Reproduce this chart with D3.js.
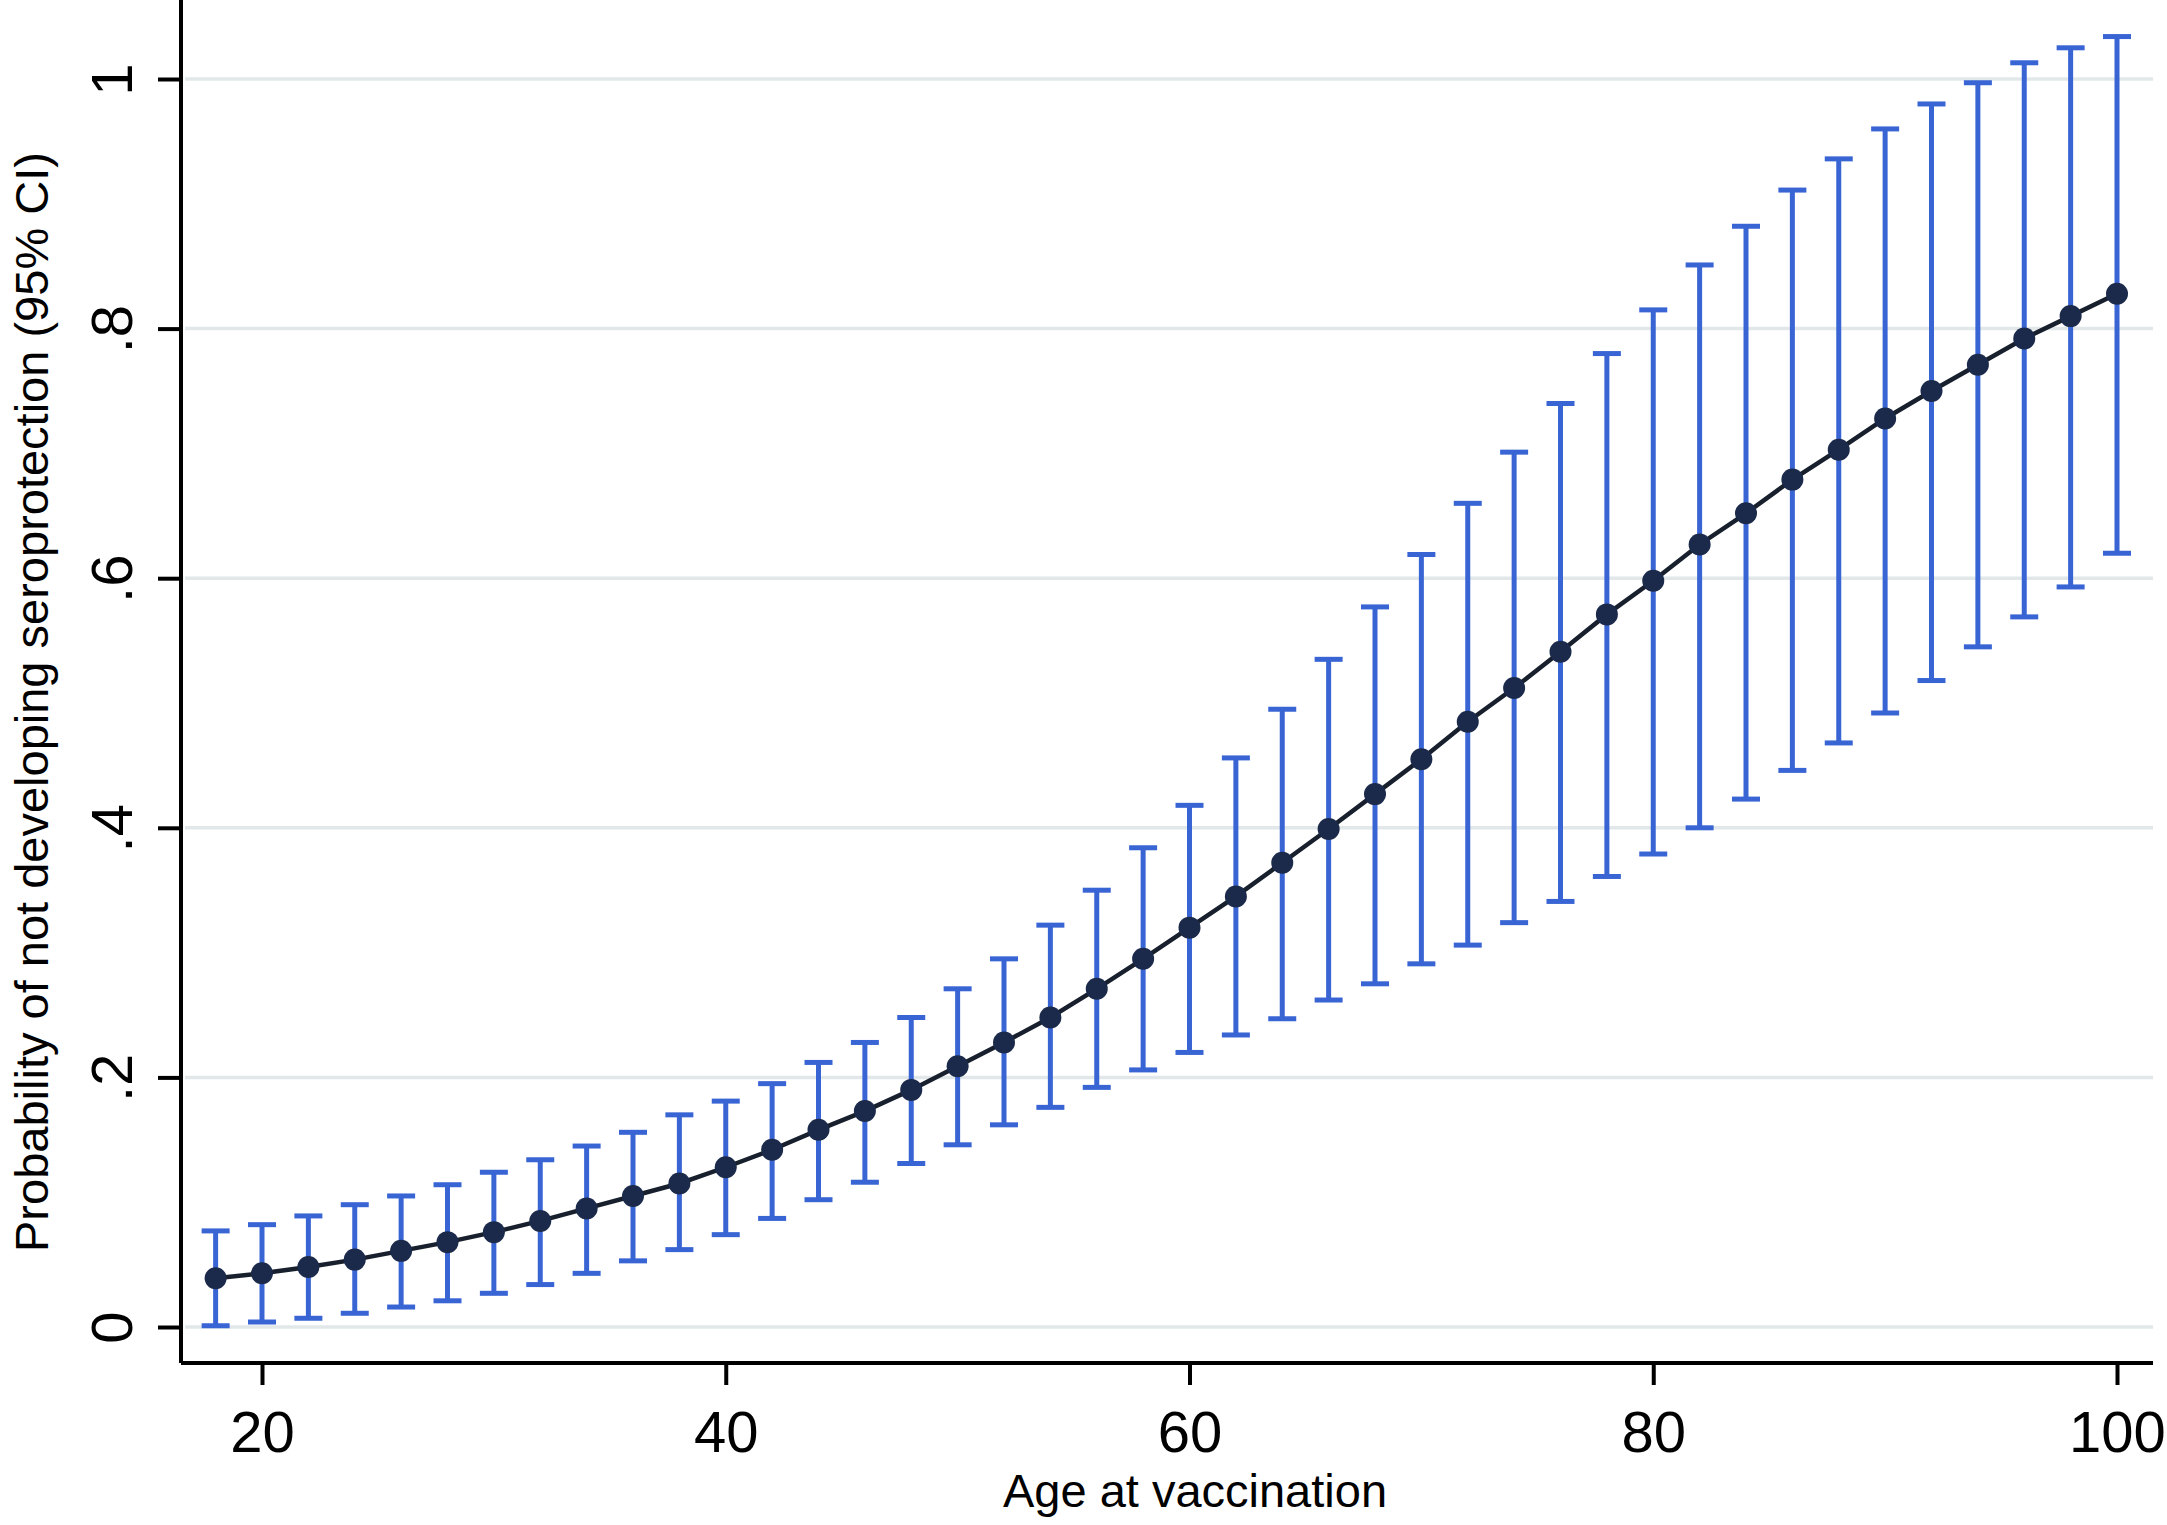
<!DOCTYPE html>
<html>
<head>
    <meta charset="utf-8">
    <title>Probability of not developing seroprotection by age</title>
    <script src="https://d3js.org/d3.v7.min.js"></script>
    <style>
        body { margin: 0; background: white; }
        svg { display: block; font-family: 'Liberation Sans', Arial, sans-serif; }
    </style>
</head>
<body>
<svg width="2167" height="1525"></svg>

<script>
    // ages at vaccination (every 2 years)
    let ages = [18, 20, 22, 24, 26, 28, 30, 32, 34, 36, 38, 40, 42, 44, 46, 48, 50, 52, 54, 56, 58,
                60, 62, 64, 66, 68, 70, 72, 74, 76, 78, 80, 82, 84, 86, 88, 90, 92, 94, 96, 98, 100]

    // predicted probability
    let estimate = [0.039, 0.043, 0.048, 0.054, 0.061, 0.068, 0.076, 0.085, 0.095, 0.105, 0.115,
                    0.128, 0.142, 0.158, 0.173, 0.190, 0.209, 0.228, 0.248, 0.271, 0.295,
                    0.320, 0.345, 0.372, 0.399, 0.427, 0.455, 0.485, 0.512, 0.541, 0.571,
                    0.598, 0.627, 0.652, 0.679, 0.703, 0.728, 0.750, 0.771, 0.792, 0.810, 0.828]

    // 95% CI bounds
    let upper = [0.077, 0.082, 0.089, 0.098, 0.105, 0.114, 0.124, 0.134, 0.145, 0.156, 0.170,
                 0.181, 0.195, 0.212, 0.228, 0.248, 0.271, 0.295, 0.322, 0.350, 0.384,
                 0.418, 0.456, 0.495, 0.535, 0.577, 0.619, 0.660, 0.701, 0.740, 0.780,
                 0.815, 0.851, 0.882, 0.911, 0.936, 0.960, 0.980, 0.997, 1.013, 1.025, 1.034]

    let lower = [0.001, 0.004, 0.007, 0.011, 0.016, 0.021, 0.027, 0.034, 0.043, 0.053, 0.062,
                 0.074, 0.087, 0.102, 0.116, 0.131, 0.146, 0.162, 0.176, 0.192, 0.206,
                 0.220, 0.234, 0.247, 0.262, 0.275, 0.291, 0.306, 0.324, 0.341, 0.361,
                 0.379, 0.400, 0.423, 0.446, 0.468, 0.492, 0.518, 0.545, 0.569, 0.593, 0.620]

    let xTicks = [20, 40, 60, 80, 100]
    let yTicks = [0, 0.2, 0.4, 0.6, 0.8, 1]
    let yTickLabels = ["0", ".2", ".4", ".6", ".8", "1"]

    let data = ages.map((a, i) => ({ age: a, est: estimate[i], lo: lower[i], hi: upper[i] }))

    let svg = d3.select("svg")

    let left = 181, right = 2153, bottom = 1363

    let x = d3.scaleLinear()
        .domain([20, 100])
        .range([262, 2117])

    let y = d3.scaleLinear()
        .domain([0, 1])
        .range([1327, 79])

    // gridlines
    svg.append("g")
        .selectAll("line")
        .data(yTicks)
        .join("line")
        .attr("x1", left + 4)
        .attr("x2", right)
        .attr("y1", d => y(d))
        .attr("y2", d => y(d))
        .style("stroke", "#e2e8e9")
        .style("stroke-width", 3.5)

    // axes
    let xAxis = d3.axisBottom(x)
        .tickValues(xTicks)
        .tickSize(22)
        .tickPadding(26)
        .tickSizeOuter(0)

    let gx = svg.append("g")
        .attr("transform", `translate(0,${bottom})`)
        .call(xAxis)

    gx.select(".domain").attr("d", `M${left},0H${right}`)

    let yAxis = d3.axisLeft(y)
        .tickValues(yTicks)
        .tickFormat((d, i) => yTickLabels[i])
        .tickSize(23)
        .tickSizeOuter(0)

    let gy = svg.append("g")
        .attr("transform", `translate(${left},0)`)
        .call(yAxis)

    gy.select(".domain").attr("d", `M0,0V${bottom}`)

    svg.selectAll(".domain, .tick line")
        .style("stroke", "black")
        .style("stroke-width", 4)

    gx.selectAll("text")
        .attr("font-size", 58)
        .attr("font-family", "'Liberation Sans', Arial, sans-serif")
        .attr("fill", "black")

    gy.selectAll(".tick text")
        .attr("font-size", 58)
        .attr("font-family", "'Liberation Sans', Arial, sans-serif")
        .attr("fill", "black")
        .attr("x", null)
        .attr("dy", null)
        .attr("text-anchor", "middle")
        .attr("transform", "translate(-49,0) rotate(-90)")

    // error bars
    let bars = svg.append("g")
        .style("stroke", "#3864d4")
        .style("stroke-width", 5)

    bars.selectAll(".ci")
        .data(data)
        .join("line")
        .attr("class", "ci")
        .attr("x1", d => x(d.age))
        .attr("x2", d => x(d.age))
        .attr("y1", d => y(d.lo))
        .attr("y2", d => y(d.hi))

    bars.selectAll(".cap-hi")
        .data(data)
        .join("line")
        .attr("class", "cap-hi")
        .attr("x1", d => x(d.age) - 14)
        .attr("x2", d => x(d.age) + 14)
        .attr("y1", d => y(d.hi))
        .attr("y2", d => y(d.hi))

    bars.selectAll(".cap-lo")
        .data(data)
        .join("line")
        .attr("class", "cap-lo")
        .attr("x1", d => x(d.age) - 14)
        .attr("x2", d => x(d.age) + 14)
        .attr("y1", d => y(d.lo))
        .attr("y2", d => y(d.lo))

    // connected estimates
    let line = d3.line()
        .x(d => x(d.age))
        .y(d => y(d.est))

    svg.append("path")
        .datum(data)
        .attr("d", line)
        .style("fill", "none")
        .style("stroke", "#18202e")
        .style("stroke-width", 4.5)

    svg.append("g")
        .selectAll("circle")
        .data(data)
        .join("circle")
        .attr("cx", d => x(d.age))
        .attr("cy", d => y(d.est))
        .attr("r", 11)
        .style("fill", "#1b2a4a")

    // titles
    svg.append("text")
        .text("Age at vaccination")
        .attr("x", 1195)
        .attr("y", 1507)
        .attr("text-anchor", "middle")
        .attr("font-size", 47)

    svg.append("text")
        .text("Probability of not developing seroprotection (95% CI)")
        .attr("transform", "translate(48,1252) rotate(-90)")
        .attr("text-anchor", "start")
        .attr("font-size", 47)
</script>
</body>
</html>
